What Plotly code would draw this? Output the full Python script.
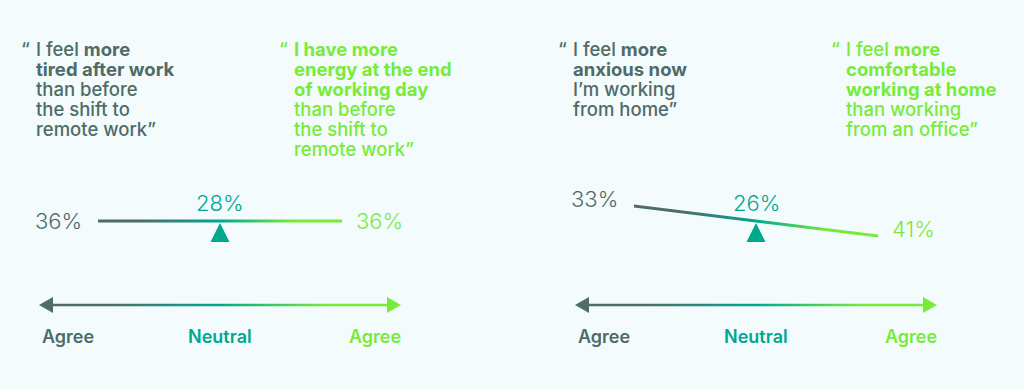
import plotly.graph_objects as go

# ---------------- data ----------------
LEFT_AGREE = [36, 33]
NEUTRAL = [28, 26]
RIGHT_AGREE = [36, 41]
SCALE_LABELS = ["Agree", "Neutral", "Agree"]
LEFT_QUOTES = [
    ["I feel <b>more</b>", "<b>tired after work</b>", "than before", "the shift to", "remote work”"],
    ["I feel <b>more</b>", "<b>anxious now</b>", "I’m working", "from home”"],
]
RIGHT_QUOTES = [
    ["<b>I have more</b>", "<b>energy at the end</b>", "<b>of working day</b>", "than before", "the shift to", "remote work”"],
    ["I feel <b>more</b>", "<b>comfortable</b>", "<b>working at home</b>", "than working", "from an office”"],
]

# ---------------- style / layout ----------------
DARK = "#4F6B68"
TEAL = "#00A88E"
GREEN = "#78EB3A"
BG = "#F3FBFD"
FONT = "Inter"
W, H = 1024, 389
CENTERS = [220, 756]
QUOTE_X = [(34, 292), (571, 844)]
QUOTE_Y0 = 49
LINE_H = 20
PIVOT_Y = 221
BEAM_HALF = 122
BEAM_T = 3
TILT_PER_PT = 15 / 122 / 8
ARROW_Y = 305
ARROW_HALF = 181
HEAD_LEN = 14
HEAD_H = 16
SHAFT_T = 2.6
LABEL_Y = 336
GRAD = [[0, DARK], [0.18, DARK], [0.5, TEAL], [0.8, GREEN], [1, GREEN]]

fig = go.Figure()
ann = []

for i, cx in enumerate(CENTERS):
    la, ne, ra = LEFT_AGREE[i], NEUTRAL[i], RIGHT_AGREE[i]
    slope = (ra - la) * TILT_PER_PT
    x0, x1 = cx - BEAM_HALF, cx + BEAM_HALF
    y0, y1 = PIVOT_Y - slope * BEAM_HALF, PIVOT_Y + slope * BEAM_HALF
    h = BEAM_T / 2
    # beam (gradient filled thin polygon)
    fig.add_trace(go.Scatter(
        x=[x0, x1, x1, x0, x0], y=[y0 - h, y1 - h, y1 + h, y0 + h, y0 - h],
        mode="lines", line=dict(width=0), fill="toself",
        fillgradient=dict(type="horizontal", colorscale=GRAD),
        hoverinfo="skip", showlegend=False))
    # fulcrum
    fig.add_trace(go.Scatter(
        x=[cx, cx + 9.5, cx - 9.5, cx], y=[PIVOT_Y + 2, PIVOT_Y + 21, PIVOT_Y + 21, PIVOT_Y + 2],
        mode="lines", line=dict(width=0, color=TEAL), fill="toself", fillcolor=TEAL,
        hoverinfo="skip", showlegend=False))
    # scale arrow
    a0, a1 = cx - ARROW_HALF, cx + ARROW_HALF
    s = SHAFT_T / 2
    hh = HEAD_H / 2
    ax = [a0, a0 + HEAD_LEN, a0 + HEAD_LEN, a1 - HEAD_LEN, a1 - HEAD_LEN, a1,
          a1 - HEAD_LEN, a1 - HEAD_LEN, a0 + HEAD_LEN, a0 + HEAD_LEN, a0]
    ay = [ARROW_Y, ARROW_Y - hh, ARROW_Y - s, ARROW_Y - s, ARROW_Y - hh, ARROW_Y,
          ARROW_Y + hh, ARROW_Y + s, ARROW_Y + s, ARROW_Y + hh, ARROW_Y]
    fig.add_trace(go.Scatter(
        x=ax, y=ay, mode="lines", line=dict(width=0), fill="toself",
        fillgradient=dict(type="horizontal", colorscale=GRAD),
        hoverinfo="skip", showlegend=False))

    # percentage labels
    pf = dict(family=FONT, size=22, weight=300)
    ann.append(dict(x=x0 - 14, y=y0 - 0.45 * abs(y0 - PIVOT_Y), text=f"{la}%", xanchor="right",
                    yanchor="middle", font=dict(pf, color=DARK)))
    ann.append(dict(x=x1 + 12, y=y1 - 0.45 * abs(y1 - PIVOT_Y), text=f"{ra}%", xanchor="left",
                    yanchor="middle", font=dict(pf, color=GREEN)))
    ann.append(dict(x=cx, y=PIVOT_Y - 18, text=f"{ne}%", xanchor="center",
                    yanchor="middle", font=dict(pf, color=TEAL)))

    # scale labels
    lf = dict(family=FONT, size=18, weight=600)
    ann.append(dict(x=a0 + 1, y=LABEL_Y, text=SCALE_LABELS[0], xanchor="left", yanchor="middle",
                    font=dict(lf, color=DARK)))
    ann.append(dict(x=cx, y=LABEL_Y, text=SCALE_LABELS[1], xanchor="center", yanchor="middle",
                    font=dict(lf, color=TEAL)))
    ann.append(dict(x=a1 + 2, y=LABEL_Y, text=SCALE_LABELS[2], xanchor="right", yanchor="middle",
                    font=dict(lf, color=GREEN)))

    # quotes
    qf = dict(family=FONT, size=18.5, weight=500)
    for lines, qx, col in ((LEFT_QUOTES[i], QUOTE_X[i][0], DARK), (RIGHT_QUOTES[i], QUOTE_X[i][1], GREEN)):
        ann.append(dict(x=qx - 2, y=QUOTE_Y0, text="“", xanchor="right", yanchor="middle",
                        font=dict(qf, color=col)))
        for k, t in enumerate(lines):
            ann.append(dict(x=qx, y=QUOTE_Y0 + k * LINE_H, text=t, xanchor="left", yanchor="middle",
                            font=dict(qf, color=col)))

for a in ann:
    a.update(xref="x", yref="y", showarrow=False)

fig.update_layout(
    width=W, height=H, margin=dict(l=0, r=0, t=0, b=0),
    paper_bgcolor=BG, plot_bgcolor=BG, showlegend=False,
    annotations=ann,
    xaxis=dict(range=[0, W], visible=False, fixedrange=True),
    yaxis=dict(range=[H, 0], visible=False, fixedrange=True),
)
fig.write_html(
    "out.html",
    config={"displayModeBar": False},
    post_script=f"document.body.style.margin='0';document.body.style.background='{BG}';",
)
